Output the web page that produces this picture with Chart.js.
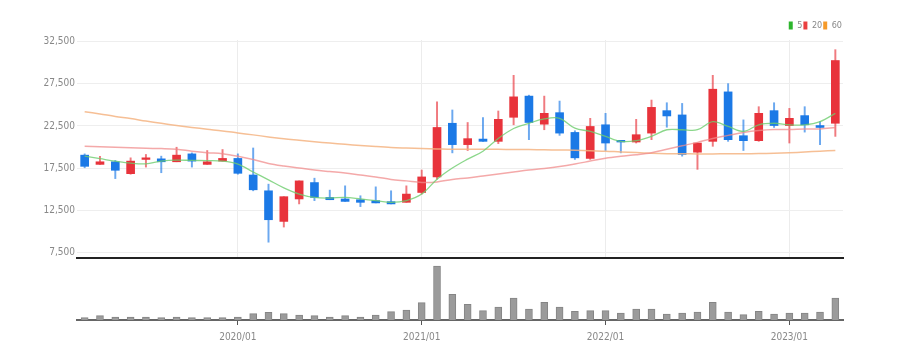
<!DOCTYPE html>
<html>
<head>
<meta charset="utf-8">
<script src="https://cdn.jsdelivr.net/npm/chart.js@4/dist/chart.umd.min.js"></script>
<style>
  html, body { margin: 0; padding: 0; background: #fff; }
  #wrap { position: relative; width: 897px; height: 360px; }
  #priceBox { position: absolute; left: 0; top: 0; width: 897px; height: 266px; }
  #volBox { position: absolute; left: 0; top: 258px; width: 897px; height: 102px; }
</style>
</head>
<body>
<div id="wrap">
  <div id="priceBox"><canvas id="priceChart"></canvas></div>
  <div id="volBox"><canvas id="volChart"></canvas></div>
</div>
<script>
const months = [
  '2019/03','2019/04','2019/05','2019/06','2019/07','2019/08','2019/09','2019/10','2019/11','2019/12',
  '2020/01','2020/02','2020/03','2020/04','2020/05','2020/06','2020/07','2020/08','2020/09','2020/10','2020/11','2020/12',
  '2021/01','2021/02','2021/03','2021/04','2021/05','2021/06','2021/07','2021/08','2021/09','2021/10','2021/11','2021/12',
  '2022/01','2022/02','2022/03','2022/04','2022/05','2022/06','2022/07','2022/08','2022/09','2022/10','2022/11','2022/12',
  '2023/01','2023/02','2023/03','2023/04'
];
const opens  = [19030,17930,18240,16830,18520,18590,18240,19180,17930,18320,18640,16670,14790,11150,13820,15770,14000,13820,13730,13620,13500,13420,14590,16440,22820,20280,20940,20670,23530,26050,22710,24080,21730,18640,22640,20790,20590,21650,24320,23810,19380,20670,26550,21340,20750,24320,22550,23730,22550,22820];
const highs  = [19180,18900,18400,18710,19110,18910,19970,19300,19580,19700,19180,19880,15580,14090,15970,16290,14870,15380,14200,15260,14790,15380,17260,25380,24400,22910,23490,24280,28520,26160,26050,25460,21930,23410,24000,20790,23290,25580,25260,25180,20470,28520,27530,23220,24790,25260,24590,24790,23020,31570];
const lows   = [17530,17930,16240,16760,17610,16940,18240,17610,17930,18320,16760,14790,8680,10480,13230,13620,13730,13530,12910,13350,13230,13420,14400,16170,19300,19580,20670,20400,22640,20870,22050,21380,18520,18520,19580,19300,20470,20870,22350,18910,17340,20080,20670,19580,20670,22320,20470,21770,20280,21260];
const closes = [17700,18240,17230,18320,18710,18240,19030,18320,18240,18640,16870,14910,11350,14090,15970,14000,13730,13530,13420,13350,13230,14400,16440,22320,20280,20990,20670,23290,25960,22910,24000,21650,18710,22440,20470,20590,21460,24710,23690,19110,20470,26870,20870,20750,24000,22550,23410,22640,22320,30280];
const ma5  = [18900,18610,18320,18080,18000,18320,18440,18400,18380,18320,17970,17030,16090,15140,14400,14000,13930,14000,13820,13620,13420,13620,14400,16170,17500,18550,19500,21020,22200,22820,23340,23410,22240,21850,21260,20670,20750,21260,22050,22050,22050,23020,22440,21850,22640,22820,22640,22640,23020,24000];
const ma20 = [20080,20020,19970,19910,19850,19810,19730,19500,19320,19200,18900,18500,18030,17730,17500,17260,17080,16910,16670,16440,16140,15970,15790,15850,16140,16320,16560,16790,17030,17260,17440,17670,17970,18320,18670,18900,19080,19320,19730,20140,20550,21020,21380,21730,21960,22080,22080,22140,22140,22320];
const ma60 = [24200,23930,23630,23380,23080,22810,22550,22320,22110,21910,21670,21440,21200,20970,20790,20610,20460,20320,20180,20050,19940,19870,19810,19770,19730,19730,19730,19720,19710,19700,19660,19640,19610,19550,19500,19410,19340,19260,19210,19190,19180,19180,19190,19200,19220,19260,19320,19400,19500,19580];
const volumes = [70,130,90,90,90,70,90,70,70,70,90,190,230,190,150,130,90,130,90,150,250,300,520,1620,770,470,280,390,660,330,530,390,260,280,280,210,330,330,180,210,240,530,240,160,260,180,210,210,240,660];
const priceTicks = [7500,12500,17500,22500,27500,32500];

const UP = '#e8333b', DOWN = '#1b79e6';
const UP_WICK = 'rgba(232,51,59,0.65)', DOWN_WICK = 'rgba(27,121,230,0.65)';
const tickFont = { family: '"Liberation Sans Narrow", "DejaVu Sans Condensed", sans-serif', size: 10 };
const isJan = i => months[i].endsWith('/01');

const upFlags = opens.map((o, i) => closes[i] >= o);

new Chart(document.getElementById('priceChart'), {
  data: {
    labels: months,
    datasets: [
      { type: 'line', label: '5',  data: ma5,  borderColor: 'rgba(110,205,110,0.8)', borderWidth: 1.3, pointRadius: 0, tension: 0.35, order: 0, legendColor: '#2db52d' },
      { type: 'line', label: '20', data: ma20, borderColor: 'rgba(240,140,140,0.75)', borderWidth: 1.5, pointRadius: 0, tension: 0.35, order: 0, legendColor: '#ea4040' },
      { type: 'line', label: '60', data: ma60, borderColor: 'rgba(245,180,130,0.85)', borderWidth: 1.5, pointRadius: 0, tension: 0.35, order: 0, legendColor: '#f59a2a' },
      { type: 'bar', label: 'body', data: opens.map((o, i) => [o, closes[i]]),
        backgroundColor: upFlags.map(u => u ? UP : DOWN), barThickness: 8, grouped: false, order: 1 },
      { type: 'bar', label: 'wick', data: lows.map((l, i) => [l, highs[i]]),
        backgroundColor: upFlags.map(u => u ? UP_WICK : DOWN_WICK), barThickness: 1.3, grouped: false, order: 2 },
    ],
  },
  options: {
    responsive: true,
    maintainAspectRatio: false,
    animation: false,
    layout: { padding: { left: 0, right: 54, top: 20, bottom: 3 } },
    plugins: {
      tooltip: { enabled: false },
      legend: {
        position: 'top',
        align: 'end',
        labels: {
          generateLabels: chart => chart.data.datasets.slice(0, 3).map((ds, i) => ({
            text: ds.label, fillStyle: ds.legendColor, strokeStyle: ds.legendColor,
            lineWidth: 0, datasetIndex: i, fontColor: '#888',
          })),
          boxWidth: 4, boxHeight: 8, padding: 1, color: '#888',
          font: { family: tickFont.family, size: 9 },
        },
      },
    },
    scales: {
      x: {
        grid: { offset: false, drawTicks: false, color: ctx => isJan(ctx.index) ? '#ececec' : 'rgba(0,0,0,0)' },
        border: { display: true, color: '#222', width: 2 },
        ticks: { display: false },
      },
      y: {
        min: 6800,
        max: 32720,
        afterFit: s => { s.width = 77; },
        afterBuildTicks: s => { s.ticks = priceTicks.map(v => ({ value: v })); },
        grid: { color: '#eeeeee', drawTicks: false },
        border: { display: false },
        ticks: { color: '#888', font: tickFont, padding: 2, callback: v => v.toLocaleString('en-US') },
      },
    },
  },
});

new Chart(document.getElementById('volChart'), {
  type: 'bar',
  data: {
    labels: months,
    datasets: [{
      label: 'volume', data: volumes,
      backgroundColor: '#9b9b9b', borderColor: '#858585', borderWidth: 1, barThickness: 7,
    }],
  },
  options: {
    responsive: true,
    maintainAspectRatio: false,
    animation: false,
    layout: { padding: { left: 77, right: 54, top: 4, bottom: 11 } },
    plugins: { legend: { display: false }, tooltip: { enabled: false } },
    scales: {
      x: {
        grid: { offset: false, drawOnChartArea: false, tickLength: 5, color: ctx => isJan(ctx.index) ? '#555' : 'rgba(0,0,0,0)' },
        border: { display: true, color: '#666', width: 2 },
        ticks: {
          autoSkip: false, maxRotation: 0, color: '#888', font: tickFont, padding: 6,
          callback: (v, i) => isJan(i) ? months[i] : '',
        },
      },
      y: { display: false, min: 0, max: 1740 },
    },
  },
});
</script>
</body>
</html>
